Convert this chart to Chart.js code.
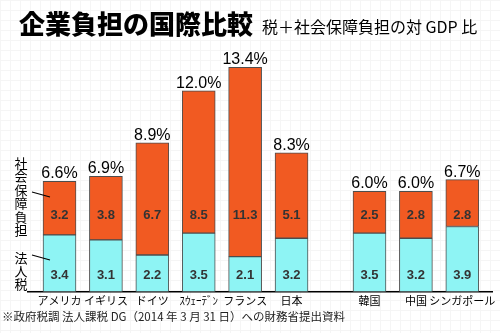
<!DOCTYPE html>
<html>
<head>
<meta charset="utf-8">
<script src="https://cdn.jsdelivr.net/npm/chart.js@4.4.1/dist/chart.umd.min.js"></script>
<style>
  html, body { margin: 0; padding: 0; }
  body {
    width: 500px; height: 333px; overflow: hidden;
    background-color: #fff;
    background-image:
      linear-gradient(to right, #f5f5f5 1px, transparent 1px),
      linear-gradient(to bottom, #f5f5f5 1px, transparent 1px);
    background-size: 10px 10px;
  }
  #wrap { position: relative; width: 500px; height: 333px; }
</style>
</head>
<body>
<div id="wrap"><canvas id="myChart" width="500" height="333"></canvas></div>
<script>
// data
var countries = ['アメリカ', 'イギリス', 'ドイツ', 'ｽｳｪｰﾃﾞﾝ', 'フランス', '日本', '韓国', '中国', 'シンガポール'];
var corpTax   = [3.4, 3.1, 2.2, 3.5, 2.1, 3.2, 3.5, 3.2, 3.9];   // 法人税
var socialSec = [3.2, 3.8, 6.7, 8.5, 11.3, 5.1, 2.5, 2.8, 2.8]; // 社会保障負担
var totals    = [6.6, 6.9, 8.9, 12.0, 13.4, 8.3, 6.0, 6.0, 6.7];

// the asian countries sit a little apart from the rest
var xSlot = countries.map(function (c, i) { return i + (i >= 6 ? 0.68 : 0); });

var ORANGE = '#f15a22';
var CYAN = '#8ef4f4';
var EDGE = '#4d4d4d';

function points(values) {
    return values.map(function (v, i) { return { x: xSlot[i], y: v }; });
}

// draws the title, value labels, side legend and source note
var labelPlugin = {
    id: 'labelPlugin',
    afterDraw: function (chart) {
        var ctx = chart.ctx;
        var yScale = chart.scales.y;
        var xScale = chart.scales.x;
        ctx.save();

        // title
        ctx.fillStyle = '#000';
        ctx.textBaseline = 'middle';
        ctx.textAlign = 'left';
        ctx.font = '900 26px "Noto Sans CJK JP"';
        ctx.fillText('企業負担の国際比較', 19, 24);
        ctx.font = '16px "Noto Sans CJK JP"';
        ctx.fillText('税＋社会保障負担の対 GDP 比', 262, 27);

        // values inside the bars
        ctx.textAlign = 'center';
        ctx.font = 'bold 13px "Liberation Sans"';
        ctx.fillStyle = '#333';
        var rowTop = yScale.getPixelForValue(4.55);
        var rowBottom = yScale.getPixelForValue(0.95);
        for (var i = 0; i < countries.length; i++) {
            var px = xScale.getPixelForValue(xSlot[i]);
            ctx.fillText(socialSec[i].toFixed(1), px, rowTop);
            ctx.fillText(corpTax[i].toFixed(1), px, rowBottom);
        }

        // totals above the bars
        ctx.fillStyle = '#000';
        ctx.font = '16px "Liberation Sans"';
        ctx.textBaseline = 'alphabetic';
        for (var j = 0; j < countries.length; j++) {
            var tx = xScale.getPixelForValue(xSlot[j]);
            var ty = yScale.getPixelForValue(totals[j]);
            ctx.fillText(totals[j].toFixed(1) + '%', tx, ty - 3);
        }

        // side legend, written vertically
        ctx.font = '13px "Noto Sans CJK JP"';
        ctx.textBaseline = 'middle';
        var word1 = '社会保障負担';
        for (var k = 0; k < word1.length; k++) {
            ctx.fillText(word1[k], 21, 163 + k * 13.4);
        }
        var word2 = '法人税';
        for (var m = 0; m < word2.length; m++) {
            ctx.fillText(word2[m], 21, 258 + m * 13);
        }
        ctx.strokeStyle = '#000';
        ctx.lineWidth = 1.2;
        ctx.beginPath();
        ctx.moveTo(32, 192); ctx.lineTo(50, 197);
        ctx.moveTo(32, 255); ctx.lineTo(50, 260);
        ctx.stroke();

        // source note
        ctx.textAlign = 'left';
        ctx.fillStyle = '#222';
        ctx.font = '11.5px "Noto Sans CJK JP"';
        ctx.fillText('※政府税調 法人課税 DG（2014 年 3 月 31 日）への財務省提出資料', 2, 317);

        ctx.restore();
    }
};

var config = {
    type: 'bar',
    data: {
        datasets: [{
            label: '法人税',
            data: points(corpTax),
            backgroundColor: CYAN,
            borderColor: EDGE,
            borderWidth: 1,
            borderSkipped: false,
            barThickness: 33
        }, {
            label: '社会保障負担',
            data: points(socialSec),
            backgroundColor: ORANGE,
            borderColor: EDGE,
            borderWidth: 1,
            borderSkipped: false,
            barThickness: 33
        }]
    },
    options: {
        responsive: false,
        animation: false,
        layout: { padding: { left: 28, right: 8, top: 49, bottom: 24 } },
        plugins: {
            legend: { display: false },
            tooltip: { enabled: false }
        },
        scales: {
            x: {
                type: 'linear',
                stacked: true,
                offset: false,
                min: -0.679,
                max: 9.32,
                grid: { display: false, drawTicks: false, offset: false },
                border: { display: true, color: '#000', width: 1.5 },
                afterBuildTicks: function (scale) {
                    scale.ticks = xSlot.map(function (v) { return { value: v }; });
                },
                // the edge labels fit inside the axis, no extra room needed
                afterFit: function (scale) {
                    scale.paddingLeft = 0;
                    scale.paddingRight = 0;
                },
                ticks: {
                    autoSkip: false,
                    maxRotation: 0,
                    padding: 2,
                    color: '#000',
                    font: { family: '"Noto Sans CJK JP"', size: 11 },
                    callback: function (value, index) { return countries[index]; }
                }
            },
            y: {
                stacked: true,
                display: false,
                min: 0,
                max: 14.5
            }
        }
    },
    plugins: [labelPlugin]
};

var myChart = new Chart(document.getElementById('myChart'), config);
</script>
</body>
</html>
